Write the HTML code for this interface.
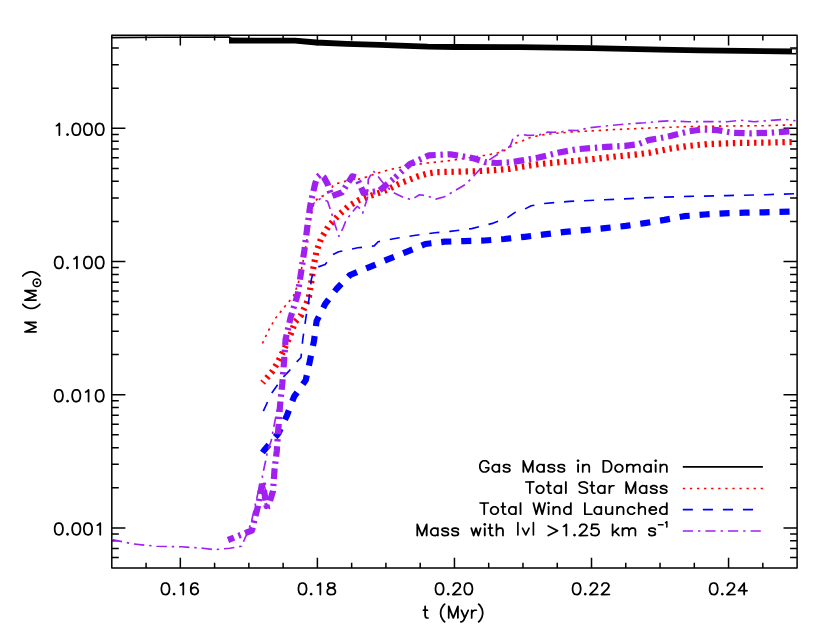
<!DOCTYPE html>
<html><head><meta charset="utf-8"><title>plot</title>
<style>html,body{margin:0;padding:0;background:#fff;font-family:"Liberation Sans",sans-serif}svg{display:block}</style>
</head><body>
<svg width="830" height="639" viewBox="0 0 830 639">
<rect width="830" height="639" fill="#fff"/>
<path d="M146.07 35.20V40.50M146.07 568.00V562.70M180.33 35.20V45.50M180.33 568.00V557.70M214.59 35.20V40.50M214.59 568.00V562.70M248.86 35.20V40.50M248.86 568.00V562.70M283.12 35.20V40.50M283.12 568.00V562.70M317.39 35.20V45.50M317.39 568.00V557.70M351.66 35.20V40.50M351.66 568.00V562.70M385.92 35.20V40.50M385.92 568.00V562.70M420.19 35.20V40.50M420.19 568.00V562.70M454.45 35.20V45.50M454.45 568.00V557.70M488.71 35.20V40.50M488.71 568.00V562.70M522.98 35.20V40.50M522.98 568.00V562.70M557.25 35.20V40.50M557.25 568.00V562.70M591.51 35.20V45.50M591.51 568.00V557.70M625.77 35.20V40.50M625.77 568.00V562.70M660.04 35.20V40.50M660.04 568.00V562.70M694.30 35.20V40.50M694.30 568.00V562.70M728.57 35.20V45.50M728.57 568.00V557.70M762.84 35.20V40.50M762.84 568.00V562.70M111.80 557.45H118.80M797.10 557.45H790.10M111.80 548.54H118.80M797.10 548.54H790.10M111.80 540.81H118.80M797.10 540.81H790.10M111.80 534.00H118.80M797.10 534.00H790.10M111.80 527.90H125.40M797.10 527.90H783.50M111.80 487.81H118.80M797.10 487.81H790.10M111.80 464.35H118.80M797.10 464.35H790.10M111.80 447.71H118.80M797.10 447.71H790.10M111.80 434.80H118.80M797.10 434.80H790.10M111.80 424.25H118.80M797.10 424.25H790.10M111.80 415.34H118.80M797.10 415.34H790.10M111.80 407.61H118.80M797.10 407.61H790.10M111.80 400.80H118.80M797.10 400.80H790.10M111.80 394.70H125.40M797.10 394.70H783.50M111.80 354.61H118.80M797.10 354.61H790.10M111.80 331.15H118.80M797.10 331.15H790.10M111.80 314.51H118.80M797.10 314.51H790.10M111.80 301.60H118.80M797.10 301.60H790.10M111.80 291.05H118.80M797.10 291.05H790.10M111.80 282.14H118.80M797.10 282.14H790.10M111.80 274.41H118.80M797.10 274.41H790.10M111.80 267.60H118.80M797.10 267.60H790.10M111.80 261.50H125.40M797.10 261.50H783.50M111.80 221.41H118.80M797.10 221.41H790.10M111.80 197.95H118.80M797.10 197.95H790.10M111.80 181.31H118.80M797.10 181.31H790.10M111.80 168.40H118.80M797.10 168.40H790.10M111.80 157.85H118.80M797.10 157.85H790.10M111.80 148.94H118.80M797.10 148.94H790.10M111.80 141.21H118.80M797.10 141.21H790.10M111.80 134.40H118.80M797.10 134.40H790.10M111.80 128.30H125.40M797.10 128.30H783.50M111.80 88.21H118.80M797.10 88.21H790.10M111.80 64.75H118.80M797.10 64.75H790.10M111.80 48.11H118.80M797.10 48.11H790.10" stroke="#000" stroke-width="1.50" fill="none"/>
<rect x="111.80" y="35.20" width="685.30" height="532.80" fill="none" stroke="#000" stroke-linejoin="round" stroke-width="1.50"/>
<g fill="none" stroke-linejoin="round">
<polyline points="111.8,37.6 160.0,37.3 229.0,37.0 232.0,39.0" stroke="#000" stroke-width="1.65"/>
<polyline points="229.0,40.5 295.0,40.7 316.4,42.5 346.5,43.9 380.0,44.9 400.0,45.7 427.8,46.7 455.0,47.0 520.0,47.1 591.3,48.2 660.0,49.6 700.0,50.3 796.5,51.5" stroke="#000" stroke-width="5.8"/>
<polyline points="260.6,347.5 262.4,343.5 268.4,330.6 275.3,318.5 284.8,306.5 293.4,296.2 298.5,282.4 303.0,262.0 307.5,236.3 310.0,222.6 312.5,208.8 314.4,201.9 318.8,197.3 325.7,195.0 330.1,190.7 333.8,184.4 340.7,182.5 347.6,180.6 361.3,178.8 373.1,174.6 388.6,169.8 407.8,165.9 427.1,163.0 446.4,161.1 465.7,158.2 484.9,155.3 491.0,154.2 498.2,152.8 504.5,150.4 510.7,146.5 516.0,142.9 522.8,140.7 529.0,138.0 535.8,136.2 542.8,134.9 549.8,134.0 556.5,133.2 563.7,132.7 570.0,132.0 590.6,130.9 615.7,129.5 650.0,128.0 688.6,126.6 727.1,126.0 765.7,125.7 795.5,124.7" stroke="#ff0000" stroke-width="1.65" stroke-dasharray="2.4 4.68" stroke-dashoffset="2.6"/>
<polyline points="262.7,382.7 267.4,377.2 272.1,371.7 277.5,363.0 284.8,347.8 290.8,334.0 295.1,322.0 301.1,315.1 306.3,303.9 308.9,297.0 310.6,286.4 313.5,267.1 316.4,251.7 321.2,238.2 328.9,225.7 338.6,215.1 348.2,206.4 357.8,200.6 367.5,196.7 381.0,192.3 388.6,189.0 398.2,184.2 407.8,180.4 417.5,176.5 427.1,173.6 436.7,172.1 456.0,171.7 475.3,171.3 494.6,170.1 510.0,168.8 519.3,167.1 538.6,164.2 557.8,162.3 577.1,160.7 596.4,158.8 615.7,156.5 634.9,154.6 650.0,152.7 669.3,148.8 688.6,145.9 707.8,144.0 736.7,143.0 765.7,142.6 791.7,142.0" stroke="#ff0000" stroke-width="6.2" stroke-dasharray="2.4 4.68" stroke-dashoffset="0.9"/>
<polyline points="262.5,413.0 271.3,393.7 275.2,388.2 283.0,377.2 288.5,371.7 295.6,363.0 301.0,357.5 302.8,339.2 306.3,315.1 308.9,299.6 311.4,278.9 314.0,270.0 318.3,266.9 325.1,264.5 332.8,254.6 338.6,251.7 357.8,247.8 374.2,245.9 378.1,241.7 396.4,238.2 415.7,235.3 434.9,232.8 450.0,231.4 471.7,228.6 493.4,223.1 507.5,217.7 515.1,212.3 524.8,209.0 531.3,205.8 543.3,203.6 569.3,201.4 601.8,199.9 630.0,198.6 650.0,197.6 688.6,196.4 727.1,195.6 765.7,194.7 795.5,193.7" stroke="#0000ff" stroke-width="1.65" stroke-dasharray="10.1 9.9" stroke-dashoffset="18"/>
<polyline points="262.5,452.5 265.0,449.2 278.3,433.6 286.9,415.6 294.0,396.8 305.7,380.3 309.6,362.3 314.0,340.9 316.6,321.1 325.2,303.9 336.5,289.0 350.0,275.0 369.4,267.1 387.7,259.4 406.0,252.1 425.3,244.0 444.6,241.7 464.1,241.1 484.7,240.5 504.2,239.0 524.8,236.8 544.3,234.4 564.9,231.8 584.5,230.1 605.1,228.1 625.7,225.9 644.9,223.1 664.5,219.9 684.0,216.2 704.6,214.5 724.1,213.4 744.7,212.7 764.2,212.3 792.0,211.6" stroke="#0000ff" stroke-width="6.2" stroke-dasharray="10.1 9.9"/>
<polyline points="111.8,539.5 133.6,544.0 156.7,546.3 181.7,546.8 203.0,548.2 214.5,549.7 229.9,548.2 241.5,546.3 247.3,532.8 251.1,523.1 258.5,490.7 269.5,508.5 262.3,476.3 265.6,461.0 267.8,450.0 271.1,441.3 274.4,423.8 276.6,412.8 278.8,401.9" stroke="#a020f0" stroke-width="1.65" stroke-dasharray="10.4 4.9 2.4 4.9"/>
<polyline points="311.5,205.0 320.0,198.8 327.6,201.3 330.1,208.8 332.6,216.3 335.1,225.1 338.8,236.3 343.2,227.6 345.7,221.3 349.5,215.7 354.5,209.4 357.3,206.3 360.1,208.8 362.7,213.2 367.5,197.7 368.3,179.4 373.1,170.7 378.9,177.5 385.7,186.1 394.3,192.9 404.0,197.7 411.7,199.6 419.4,194.8 427.1,195.8 435.8,199.1 444.5,196.7 456.0,190.0 465.7,184.2 473.4,176.5 481.1,167.8 488.8,160.1 491.9,158.1 498.7,153.7 503.5,149.4 508.3,147.5 510.7,145.1 513.1,138.3 515.5,136.4 518.4,135.4 522.8,134.5 527.6,135.4 532.9,135.2 539.2,134.9 544.0,133.5 547.8,132.0 553.6,132.3 561.3,132.0 567.1,130.4 577.1,130.5 590.6,127.6 608.0,125.7 625.3,124.1 644.6,122.8 660.0,121.4 669.3,120.8 688.6,121.8 707.8,121.5 727.1,121.7 740.6,120.2 754.1,121.8 769.5,120.5 784.9,119.3 795.5,120.8" stroke="#a020f0" stroke-width="1.65" stroke-dasharray="10.4 4.9 2.4 4.9" stroke-dashoffset="6.4"/>
<polyline points="228.0,540.0 238.0,536.0 252.0,530.5 254.5,520.0 258.0,506.0 262.5,481.0 266.5,506.0 270.0,501.0 273.0,491.0 274.5,470.0 276.8,450.8 279.9,407.0 282.3,383.5 283.9,363.3 285.6,339.2 290.8,316.8 297.7,294.4 301.1,272.1 304.5,249.5 307.3,227.0 310.1,206.3 312.9,193.2 315.2,183.5 317.5,177.0 320.7,174.3 324.0,177.5 327.6,184.0 329.6,190.5 331.5,196.3 342.0,192.3 352.3,176.3 356.7,177.5 363.5,192.9 378.9,191.0 395.3,177.5" stroke="#a020f0" stroke-width="6.2" stroke-dasharray="10.5 4.75 2.4 4.75" stroke-dashoffset="4"/>
<polyline points="395.3,177.5 409.8,164.0 429.0,155.3 450.2,154.3 473.4,158.2 484.9,162.0 496.5,163.0 510.0,162.4 519.3,160.9 538.6,157.5 557.8,152.7 577.1,149.2 606.0,146.9 625.3,145.9 638.8,144.0 648.4,140.1 660.0,138.2 669.3,136.3 688.6,131.4 702.0,129.5 717.5,130.1 732.9,132.8 750.2,133.4 769.5,132.8 789.8,131.4" stroke="#a020f0" stroke-width="6.2" stroke-dasharray="10.5 4.75 2.4 4.75" stroke-dashoffset="7.7"/>
</g>
<rect x="792" y="49.4" width="3.9" height="3.5" fill="#fff"/>
<path transform="translate(159.67 594.60) scale(0.9931 0.9517)" d="M14.25 -2.00L13.81 -1.75L13.31 -1.25L13.06 -0.75L13.06 -0.44L13.31 0.06L13.88 0.62L14.56 0.88L15.12 0.62L15.69 0.06L15.94 -0.44L15.94 -0.75L15.69 -1.25L15.19 -1.75L14.75 -2.00ZM34.75 -13.06L32.88 -12.50L32.19 -11.94L31.19 -10.44L31.00 -10.00L30.44 -7.19L30.44 -3.81L30.94 -1.81L31.25 -1.12L32.44 0.06L32.88 0.31L34.38 0.81L35.44 0.88L37.44 0.25L38.94 -1.12L39.19 -1.56L39.69 -3.06L39.75 -4.06L38.94 -6.44L37.75 -7.56L37.25 -7.88L35.75 -8.38L34.81 -8.44L32.75 -7.81L32.44 -7.56L32.38 -7.62L32.75 -9.56L33.50 -10.69L33.81 -10.94L35.00 -11.31L36.00 -11.25L37.06 -10.88L37.56 -9.94L38.25 -9.56L38.88 -9.81L39.12 -10.19L39.06 -10.88L38.50 -12.00L38.00 -12.44L36.38 -13.00ZM34.81 -6.62L35.38 -6.62L36.62 -6.19L37.50 -5.31L38.00 -3.81L37.44 -2.12L36.56 -1.31L35.25 -0.88L34.94 -0.88L33.62 -1.31L32.75 -2.12L32.25 -3.94L32.62 -5.25L33.56 -6.19ZM23.75 -13.06L23.12 -12.81L21.44 -11.12L20.44 -10.62L20.19 -10.38L20.00 -9.81L20.12 -9.44L20.44 -9.12L21.00 -9.00L22.44 -9.62L22.81 -9.94L22.88 -9.88L22.88 0.00L23.25 0.69L23.81 0.88L24.31 0.69L24.69 0.00L24.69 -12.19L24.44 -12.75ZM5.12 -13.06L3.31 -12.50L2.75 -12.12L1.56 -10.38L0.88 -7.31L0.88 -4.88L1.44 -2.12L2.75 -0.06L3.31 0.31L4.81 0.81L6.44 0.88L8.31 0.31L9.00 -0.25L10.00 -1.75L10.19 -2.19L10.75 -5.00L10.75 -7.19L10.19 -9.94L9.94 -10.50L8.94 -12.00L8.31 -12.50L6.81 -13.00ZM5.38 -11.31L6.44 -11.25L7.38 -10.94L7.69 -10.69L8.50 -9.38L9.00 -6.75L9.00 -5.44L8.44 -2.62L7.50 -1.31L6.25 -0.88L5.38 -0.88L4.00 -1.38L3.12 -2.75L2.62 -5.19L2.62 -7.00L3.12 -9.44L4.12 -10.88Z" fill="#000"/>
<path transform="translate(296.73 594.60) scale(0.9931 0.9517)" d="M14.25 -2.00L13.81 -1.75L13.31 -1.25L13.06 -0.75L13.06 -0.44L13.31 0.06L13.88 0.62L14.56 0.88L15.12 0.62L15.69 0.06L15.94 -0.44L15.94 -0.75L15.69 -1.25L15.19 -1.75L14.75 -2.00ZM33.25 -13.00L31.50 -12.38L31.06 -11.94L30.50 -10.81L30.50 -8.88L31.12 -7.69L31.94 -7.06L30.69 -5.88L29.94 -4.50L29.94 -1.88L30.62 -0.62L31.25 0.06L31.69 0.31L33.56 0.88L36.38 0.81L37.88 0.31L38.31 0.06L39.12 -0.81L39.62 -1.81L39.75 -2.31L39.75 -4.06L39.62 -4.56L38.94 -5.81L37.62 -7.06L38.00 -7.25L38.56 -7.81L39.06 -8.81L39.19 -9.31L39.19 -10.44L38.50 -12.00L37.88 -12.50L36.00 -13.06ZM32.00 -4.62L33.00 -5.62L34.69 -6.19L36.62 -5.62L37.56 -4.69L37.94 -3.94L37.94 -2.44L37.56 -1.69L37.25 -1.38L35.81 -0.88L33.81 -0.88L32.44 -1.31L32.00 -1.75L31.62 -2.50L31.62 -3.88ZM32.19 -10.19L32.56 -10.88L33.81 -11.31L35.75 -11.31L37.12 -10.81L37.38 -10.31L37.38 -9.44L37.00 -8.75L36.25 -8.38L35.06 -8.06L34.56 -8.06L33.38 -8.38L32.62 -8.75L32.19 -9.50ZM23.75 -13.06L23.12 -12.81L21.44 -11.12L20.44 -10.62L20.19 -10.38L20.00 -9.81L20.12 -9.44L20.44 -9.12L21.00 -9.00L22.44 -9.62L22.81 -9.94L22.88 -9.88L22.88 0.00L23.25 0.69L23.81 0.88L24.31 0.69L24.69 0.00L24.69 -12.19L24.44 -12.75ZM5.12 -13.06L3.31 -12.50L2.75 -12.12L1.56 -10.38L0.88 -7.31L0.88 -4.88L1.44 -2.12L2.75 -0.06L3.31 0.31L4.81 0.81L6.44 0.88L8.31 0.31L9.00 -0.25L10.00 -1.75L10.19 -2.19L10.75 -5.00L10.75 -7.19L10.19 -9.94L9.94 -10.50L8.94 -12.00L8.31 -12.50L6.81 -13.00ZM5.38 -11.31L6.44 -11.25L7.38 -10.94L7.69 -10.69L8.50 -9.38L9.00 -6.75L9.00 -5.44L8.44 -2.62L7.50 -1.31L6.25 -0.88L5.38 -0.88L4.00 -1.38L3.12 -2.75L2.62 -5.19L2.62 -7.00L3.12 -9.44L4.12 -10.88Z" fill="#000"/>
<path transform="translate(433.79 594.60) scale(0.9931 0.9517)" d="M14.25 -2.00L13.81 -1.75L13.31 -1.25L13.06 -0.75L13.06 -0.44L13.31 0.06L13.88 0.62L14.56 0.88L15.12 0.62L15.69 0.06L15.94 -0.44L15.94 -0.75L15.69 -1.25L15.19 -1.75L14.75 -2.00ZM34.12 -13.06L32.31 -12.50L31.75 -12.12L30.56 -10.38L29.88 -7.31L29.88 -4.88L30.44 -2.12L31.75 -0.06L32.31 0.31L33.81 0.81L35.44 0.88L37.31 0.31L38.00 -0.25L39.00 -1.75L39.19 -2.19L39.75 -5.00L39.75 -7.19L39.19 -9.94L38.94 -10.50L37.94 -12.00L37.31 -12.50L35.81 -13.00ZM34.38 -11.31L35.44 -11.25L36.38 -10.94L36.69 -10.69L37.50 -9.38L38.00 -6.75L38.00 -5.44L37.44 -2.62L36.50 -1.31L35.25 -0.88L34.38 -0.88L33.00 -1.38L32.12 -2.75L31.62 -5.19L31.62 -7.00L32.12 -9.44L33.12 -10.88ZM21.62 -13.00L20.19 -12.19L19.50 -11.44L18.81 -9.88L18.88 -9.06L19.25 -8.56L19.50 -8.44L19.94 -8.44L20.19 -8.56L20.56 -9.06L20.62 -9.69L21.00 -10.44L21.50 -10.94L22.31 -11.31L24.12 -11.31L25.00 -10.88L25.38 -10.50L25.81 -9.62L25.81 -8.94L25.31 -7.94L24.31 -6.44L18.50 -0.62L18.31 -0.25L18.31 0.25L18.62 0.69L19.06 0.88L27.56 0.81L28.00 0.44L28.12 0.12L28.00 -0.44L27.56 -0.81L21.31 -0.94L25.75 -5.38L26.94 -7.19L27.50 -8.31L27.56 -8.69L27.50 -10.25L26.94 -11.38L25.88 -12.44L24.75 -13.00L24.38 -13.06ZM5.12 -13.06L3.31 -12.50L2.75 -12.12L1.56 -10.38L0.88 -7.31L0.88 -4.88L1.44 -2.12L2.75 -0.06L3.31 0.31L4.81 0.81L6.44 0.88L8.31 0.31L9.00 -0.25L10.00 -1.75L10.19 -2.19L10.75 -5.00L10.75 -7.19L10.19 -9.94L9.94 -10.50L8.94 -12.00L8.31 -12.50L6.81 -13.00ZM5.38 -11.31L6.44 -11.25L7.38 -10.94L7.69 -10.69L8.50 -9.38L9.00 -6.75L9.00 -5.44L8.44 -2.62L7.50 -1.31L6.25 -0.88L5.38 -0.88L4.00 -1.38L3.12 -2.75L2.62 -5.19L2.62 -7.00L3.12 -9.44L4.12 -10.88Z" fill="#000"/>
<path transform="translate(570.85 594.60) scale(0.9931 0.9517)" d="M14.25 -2.00L13.81 -1.75L13.31 -1.25L13.06 -0.75L13.06 -0.44L13.31 0.06L13.88 0.62L14.56 0.88L15.12 0.62L15.69 0.06L15.94 -0.44L15.94 -0.75L15.69 -1.25L15.19 -1.75L14.75 -2.00ZM33.25 -13.00L32.12 -12.44L31.06 -11.38L30.50 -10.25L30.44 -9.25L30.62 -8.75L31.06 -8.44L31.56 -8.44L31.81 -8.56L32.12 -8.94L32.19 -9.62L32.62 -10.50L33.00 -10.88L33.88 -11.31L35.69 -11.31L36.50 -10.94L37.00 -10.44L37.38 -9.69L37.38 -8.88L36.88 -7.88L35.88 -6.38L30.12 -0.62L29.88 -0.12L29.94 0.31L30.31 0.75L30.69 0.88L39.19 0.81L39.69 0.25L39.69 -0.25L39.19 -0.81L32.94 -0.94L37.19 -5.19L38.44 -7.00L39.19 -8.69L39.19 -9.88L39.06 -10.31L38.50 -11.44L37.81 -12.19L36.38 -13.00ZM21.62 -13.00L20.19 -12.19L19.50 -11.44L18.81 -9.88L18.88 -9.06L19.25 -8.56L19.50 -8.44L19.94 -8.44L20.19 -8.56L20.56 -9.06L20.62 -9.69L21.00 -10.44L21.50 -10.94L22.31 -11.31L24.12 -11.31L25.00 -10.88L25.38 -10.50L25.81 -9.62L25.81 -8.94L25.31 -7.94L24.31 -6.44L18.50 -0.62L18.31 -0.25L18.31 0.25L18.62 0.69L19.06 0.88L27.56 0.81L28.00 0.44L28.12 0.12L28.00 -0.44L27.56 -0.81L21.31 -0.94L25.75 -5.38L26.94 -7.19L27.50 -8.31L27.56 -8.69L27.50 -10.25L26.94 -11.38L25.88 -12.44L24.75 -13.00L24.38 -13.06ZM5.12 -13.06L3.31 -12.50L2.75 -12.12L1.56 -10.38L0.88 -7.31L0.88 -4.88L1.44 -2.12L2.75 -0.06L3.31 0.31L4.81 0.81L6.44 0.88L8.31 0.31L9.00 -0.25L10.00 -1.75L10.19 -2.19L10.75 -5.00L10.75 -7.19L10.19 -9.94L9.94 -10.50L8.94 -12.00L8.31 -12.50L6.81 -13.00ZM5.38 -11.31L6.44 -11.25L7.38 -10.94L7.69 -10.69L8.50 -9.38L9.00 -6.75L9.00 -5.44L8.44 -2.62L7.50 -1.31L6.25 -0.88L5.38 -0.88L4.00 -1.38L3.12 -2.75L2.62 -5.19L2.62 -7.00L3.12 -9.44L4.12 -10.88Z" fill="#000"/>
<path transform="translate(707.91 594.60) scale(0.9931 0.9517)" d="M14.25 -2.00L13.81 -1.75L13.31 -1.25L13.06 -0.75L13.06 -0.44L13.31 0.06L13.88 0.62L14.56 0.88L15.12 0.62L15.69 0.06L15.94 -0.44L15.94 -0.75L15.69 -1.25L15.19 -1.75L14.75 -2.00ZM36.44 -13.06L35.94 -12.81L30.25 -4.94L30.00 -4.56L29.88 -3.94L30.00 -3.62L30.31 -3.31L30.69 -3.19L35.56 -3.19L35.62 0.00L35.94 0.62L36.62 0.88L37.25 0.50L37.44 0.00L37.44 -3.12L39.75 -3.25L40.19 -3.62L40.31 -4.12L40.19 -4.50L39.75 -4.88L37.44 -5.00L37.44 -12.19L37.06 -12.88ZM35.56 -9.25L35.62 -5.00L32.56 -4.94L32.56 -5.12ZM21.62 -13.00L20.19 -12.19L19.50 -11.44L18.81 -9.88L18.88 -9.06L19.25 -8.56L19.50 -8.44L19.94 -8.44L20.19 -8.56L20.56 -9.06L20.62 -9.69L21.00 -10.44L21.50 -10.94L22.31 -11.31L24.12 -11.31L25.00 -10.88L25.38 -10.50L25.81 -9.62L25.81 -8.94L25.31 -7.94L24.31 -6.44L18.50 -0.62L18.31 -0.25L18.31 0.25L18.62 0.69L19.06 0.88L27.56 0.81L28.00 0.44L28.12 0.12L28.00 -0.44L27.56 -0.81L21.31 -0.94L25.75 -5.38L26.94 -7.19L27.50 -8.31L27.56 -8.69L27.50 -10.25L26.94 -11.38L25.88 -12.44L24.75 -13.00L24.38 -13.06ZM5.12 -13.06L3.31 -12.50L2.75 -12.12L1.56 -10.38L0.88 -7.31L0.88 -4.88L1.44 -2.12L2.75 -0.06L3.31 0.31L4.81 0.81L6.44 0.88L8.31 0.31L9.00 -0.25L10.00 -1.75L10.19 -2.19L10.75 -5.00L10.75 -7.19L10.19 -9.94L9.94 -10.50L8.94 -12.00L8.31 -12.50L6.81 -13.00ZM5.38 -11.31L6.44 -11.25L7.38 -10.94L7.69 -10.69L8.50 -9.38L9.00 -6.75L9.00 -5.44L8.44 -2.62L7.50 -1.31L6.25 -0.88L5.38 -0.88L4.00 -1.38L3.12 -2.75L2.62 -5.19L2.62 -7.00L3.12 -9.44L4.12 -10.88Z" fill="#000"/>
<path transform="translate(52.94 135.20) scale(1.0069 0.9655)" d="M14.25 -2.00L13.81 -1.75L13.31 -1.25L13.06 -0.75L13.06 -0.44L13.31 0.06L13.88 0.62L14.56 0.88L15.12 0.62L15.69 0.06L15.94 -0.44L15.94 -0.75L15.69 -1.25L15.19 -1.75L14.75 -2.00ZM45.75 -13.06L43.69 -12.38L43.25 -12.00L42.25 -10.50L42.00 -9.94L41.50 -7.44L41.44 -5.19L42.00 -2.25L42.25 -1.69L43.25 -0.19L43.88 0.31L45.38 0.81L47.06 0.88L49.12 0.19L49.50 -0.12L50.62 -1.81L51.31 -4.81L51.38 -6.94L50.75 -10.06L49.50 -12.06L48.88 -12.50L47.38 -13.00ZM46.00 -11.31L46.81 -11.31L48.19 -10.81L49.06 -9.50L49.56 -7.06L49.56 -5.12L49.06 -2.69L48.12 -1.31L46.81 -0.88L45.94 -0.88L44.81 -1.25L44.56 -1.44L43.75 -2.69L43.25 -5.06L43.25 -7.12L43.75 -9.50L44.69 -10.88ZM34.12 -13.06L32.31 -12.50L31.75 -12.12L30.56 -10.38L29.88 -7.31L29.88 -4.88L30.44 -2.12L31.75 -0.06L32.31 0.31L33.81 0.81L35.44 0.88L37.31 0.31L38.00 -0.25L39.00 -1.75L39.19 -2.19L39.75 -5.00L39.75 -7.19L39.19 -9.94L38.94 -10.50L37.94 -12.00L37.31 -12.50L35.81 -13.00ZM34.38 -11.31L35.44 -11.25L36.38 -10.94L36.69 -10.69L37.50 -9.38L38.00 -6.75L38.00 -5.44L37.44 -2.62L36.50 -1.31L35.25 -0.88L34.38 -0.88L33.00 -1.38L32.12 -2.75L31.62 -5.19L31.62 -7.00L32.12 -9.44L33.12 -10.88ZM22.56 -13.06L20.69 -12.50L20.38 -12.31L19.06 -10.50L18.75 -9.69L18.25 -7.19L18.25 -5.00L18.81 -2.19L20.00 -0.25L20.69 0.31L22.19 0.81L23.81 0.88L25.94 0.19L26.25 -0.06L27.44 -1.81L28.12 -4.88L28.12 -7.31L27.56 -10.06L26.25 -12.12L25.69 -12.50L24.19 -13.00ZM22.81 -11.31L23.62 -11.31L24.75 -10.94L25.12 -10.62L25.88 -9.44L26.38 -7.00L26.38 -5.19L25.88 -2.75L24.94 -1.31L23.62 -0.88L22.75 -0.88L21.62 -1.25L21.31 -1.50L20.56 -2.62L20.00 -5.44L20.00 -6.75L20.50 -9.38L21.50 -10.88ZM6.38 -13.06L5.75 -12.81L4.06 -11.12L3.12 -10.69L2.62 -10.06L2.75 -9.38L3.31 -9.00L3.94 -9.06L5.00 -9.62L5.44 -10.00L5.50 -9.94L5.50 0.06L5.62 0.44L5.94 0.75L6.31 0.88L6.81 0.75L7.12 0.44L7.25 0.06L7.25 -12.25L7.12 -12.62L6.81 -12.94Z" fill="#000"/>
<path transform="translate(52.94 268.40) scale(1.0069 0.9655)" d="M14.25 -2.00L13.81 -1.75L13.31 -1.25L13.06 -0.75L13.06 -0.44L13.31 0.06L13.88 0.62L14.56 0.88L15.12 0.62L15.69 0.06L15.94 -0.44L15.94 -0.75L15.69 -1.25L15.19 -1.75L14.75 -2.00ZM45.75 -13.06L43.69 -12.38L43.25 -12.00L42.25 -10.50L42.00 -9.94L41.50 -7.44L41.44 -5.19L42.00 -2.25L42.25 -1.69L43.25 -0.19L43.88 0.31L45.38 0.81L47.06 0.88L49.12 0.19L49.50 -0.12L50.62 -1.81L51.31 -4.81L51.38 -6.94L50.75 -10.06L49.50 -12.06L48.88 -12.50L47.38 -13.00ZM46.00 -11.31L46.81 -11.31L48.19 -10.81L49.06 -9.50L49.56 -7.06L49.56 -5.12L49.06 -2.69L48.12 -1.31L46.81 -0.88L45.94 -0.88L44.81 -1.25L44.56 -1.44L43.75 -2.69L43.25 -5.06L43.25 -7.12L43.75 -9.50L44.69 -10.88ZM34.12 -13.06L32.31 -12.50L31.75 -12.12L30.56 -10.38L29.88 -7.31L29.88 -4.88L30.44 -2.12L31.75 -0.06L32.31 0.31L33.81 0.81L35.44 0.88L37.31 0.31L38.00 -0.25L39.00 -1.75L39.19 -2.19L39.75 -5.00L39.75 -7.19L39.19 -9.94L38.94 -10.50L37.94 -12.00L37.31 -12.50L35.81 -13.00ZM34.38 -11.31L35.44 -11.25L36.38 -10.94L36.69 -10.69L37.50 -9.38L38.00 -6.75L38.00 -5.44L37.44 -2.62L36.50 -1.31L35.25 -0.88L34.38 -0.88L33.00 -1.38L32.12 -2.75L31.62 -5.19L31.62 -7.00L32.12 -9.44L33.12 -10.88ZM23.75 -13.06L23.12 -12.81L21.44 -11.12L20.44 -10.62L20.19 -10.38L20.00 -9.81L20.12 -9.44L20.44 -9.12L21.00 -9.00L22.44 -9.62L22.81 -9.94L22.88 -9.88L22.88 0.00L23.25 0.69L23.81 0.88L24.31 0.69L24.69 0.00L24.69 -12.19L24.44 -12.75ZM5.12 -13.06L3.31 -12.50L2.75 -12.12L1.56 -10.38L0.88 -7.31L0.88 -4.88L1.44 -2.12L2.75 -0.06L3.31 0.31L4.81 0.81L6.44 0.88L8.31 0.31L9.00 -0.25L10.00 -1.75L10.19 -2.19L10.75 -5.00L10.75 -7.19L10.19 -9.94L9.94 -10.50L8.94 -12.00L8.31 -12.50L6.81 -13.00ZM5.38 -11.31L6.44 -11.25L7.38 -10.94L7.69 -10.69L8.50 -9.38L9.00 -6.75L9.00 -5.44L8.44 -2.62L7.50 -1.31L6.25 -0.88L5.38 -0.88L4.00 -1.38L3.12 -2.75L2.62 -5.19L2.62 -7.00L3.12 -9.44L4.12 -10.88Z" fill="#000"/>
<path transform="translate(52.94 401.60) scale(1.0069 0.9655)" d="M14.25 -2.00L13.81 -1.75L13.31 -1.25L13.06 -0.75L13.06 -0.44L13.31 0.06L13.88 0.62L14.56 0.88L15.12 0.62L15.69 0.06L15.94 -0.44L15.94 -0.75L15.69 -1.25L15.19 -1.75L14.75 -2.00ZM45.75 -13.06L43.69 -12.38L43.25 -12.00L42.25 -10.50L42.00 -9.94L41.50 -7.44L41.44 -5.19L42.00 -2.25L42.25 -1.69L43.25 -0.19L43.88 0.31L45.38 0.81L47.06 0.88L49.12 0.19L49.50 -0.12L50.62 -1.81L51.31 -4.81L51.38 -6.94L50.75 -10.06L49.50 -12.06L48.88 -12.50L47.38 -13.00ZM46.00 -11.31L46.81 -11.31L48.19 -10.81L49.06 -9.50L49.56 -7.06L49.56 -5.12L49.06 -2.69L48.12 -1.31L46.81 -0.88L45.94 -0.88L44.81 -1.25L44.56 -1.44L43.75 -2.69L43.25 -5.06L43.25 -7.12L43.75 -9.50L44.69 -10.88ZM35.38 -13.06L34.75 -12.81L33.06 -11.12L32.12 -10.69L31.62 -10.06L31.75 -9.38L32.31 -9.00L32.94 -9.06L34.00 -9.62L34.44 -10.00L34.50 -9.94L34.50 0.06L34.62 0.44L34.94 0.75L35.31 0.88L35.81 0.75L36.12 0.44L36.25 0.06L36.25 -12.25L36.12 -12.62L35.81 -12.94ZM22.56 -13.06L20.69 -12.50L20.38 -12.31L19.06 -10.50L18.75 -9.69L18.25 -7.19L18.25 -5.00L18.81 -2.19L20.00 -0.25L20.69 0.31L22.19 0.81L23.81 0.88L25.94 0.19L26.25 -0.06L27.44 -1.81L28.12 -4.88L28.12 -7.31L27.56 -10.06L26.25 -12.12L25.69 -12.50L24.19 -13.00ZM22.81 -11.31L23.62 -11.31L24.75 -10.94L25.12 -10.62L25.88 -9.44L26.38 -7.00L26.38 -5.19L25.88 -2.75L24.94 -1.31L23.62 -0.88L22.75 -0.88L21.62 -1.25L21.31 -1.50L20.56 -2.62L20.00 -5.44L20.00 -6.75L20.50 -9.38L21.50 -10.88ZM5.12 -13.06L3.31 -12.50L2.75 -12.12L1.56 -10.38L0.88 -7.31L0.88 -4.88L1.44 -2.12L2.75 -0.06L3.31 0.31L4.81 0.81L6.44 0.88L8.31 0.31L9.00 -0.25L10.00 -1.75L10.19 -2.19L10.75 -5.00L10.75 -7.19L10.19 -9.94L9.94 -10.50L8.94 -12.00L8.31 -12.50L6.81 -13.00ZM5.38 -11.31L6.44 -11.25L7.38 -10.94L7.69 -10.69L8.50 -9.38L9.00 -6.75L9.00 -5.44L8.44 -2.62L7.50 -1.31L6.25 -0.88L5.38 -0.88L4.00 -1.38L3.12 -2.75L2.62 -5.19L2.62 -7.00L3.12 -9.44L4.12 -10.88Z" fill="#000"/>
<path transform="translate(52.94 534.80) scale(1.0069 0.9655)" d="M14.25 -2.00L13.81 -1.75L13.31 -1.25L13.06 -0.75L13.06 -0.44L13.31 0.06L13.88 0.62L14.56 0.88L15.12 0.62L15.69 0.06L15.94 -0.44L15.94 -0.75L15.69 -1.25L15.19 -1.75L14.75 -2.00ZM47.00 -13.06L46.38 -12.81L44.75 -11.19L43.81 -10.75L43.25 -10.12L43.25 -9.56L43.62 -9.12L43.94 -9.00L44.50 -9.06L45.62 -9.62L46.00 -9.94L46.06 -9.88L46.06 0.00L46.31 0.56L46.94 0.88L47.50 0.69L47.88 0.00L47.88 -12.19L47.69 -12.69ZM34.12 -13.06L32.31 -12.50L31.75 -12.12L30.56 -10.38L29.88 -7.31L29.88 -4.88L30.44 -2.12L31.75 -0.06L32.31 0.31L33.81 0.81L35.44 0.88L37.31 0.31L38.00 -0.25L39.00 -1.75L39.19 -2.19L39.75 -5.00L39.75 -7.19L39.19 -9.94L38.94 -10.50L37.94 -12.00L37.31 -12.50L35.81 -13.00ZM34.38 -11.31L35.44 -11.25L36.38 -10.94L36.69 -10.69L37.50 -9.38L38.00 -6.75L38.00 -5.44L37.44 -2.62L36.50 -1.31L35.25 -0.88L34.38 -0.88L33.00 -1.38L32.12 -2.75L31.62 -5.19L31.62 -7.00L32.12 -9.44L33.12 -10.88ZM22.56 -13.06L20.69 -12.50L20.38 -12.31L19.06 -10.50L18.75 -9.69L18.25 -7.19L18.25 -5.00L18.81 -2.19L20.00 -0.25L20.69 0.31L22.19 0.81L23.81 0.88L25.94 0.19L26.25 -0.06L27.44 -1.81L28.12 -4.88L28.12 -7.31L27.56 -10.06L26.25 -12.12L25.69 -12.50L24.19 -13.00ZM22.81 -11.31L23.62 -11.31L24.75 -10.94L25.12 -10.62L25.88 -9.44L26.38 -7.00L26.38 -5.19L25.88 -2.75L24.94 -1.31L23.62 -0.88L22.75 -0.88L21.62 -1.25L21.31 -1.50L20.56 -2.62L20.00 -5.44L20.00 -6.75L20.50 -9.38L21.50 -10.88ZM5.12 -13.06L3.31 -12.50L2.75 -12.12L1.56 -10.38L0.88 -7.31L0.88 -4.88L1.44 -2.12L2.75 -0.06L3.31 0.31L4.81 0.81L6.44 0.88L8.31 0.31L9.00 -0.25L10.00 -1.75L10.19 -2.19L10.75 -5.00L10.75 -7.19L10.19 -9.94L9.94 -10.50L8.94 -12.00L8.31 -12.50L6.81 -13.00ZM5.38 -11.31L6.44 -11.25L7.38 -10.94L7.69 -10.69L8.50 -9.38L9.00 -6.75L9.00 -5.44L8.44 -2.62L7.50 -1.31L6.25 -0.88L5.38 -0.88L4.00 -1.38L3.12 -2.75L2.62 -5.19L2.62 -7.00L3.12 -9.44L4.12 -10.88Z" fill="#000"/>
<path transform="translate(422.26 618.00) scale(0.9914 0.9569)" d="M54.94 -8.88L54.56 -9.00L52.38 -8.94L51.38 -8.44L50.81 -8.00L50.62 -8.56L50.19 -8.94L49.56 -8.94L49.12 -8.56L49.00 -8.12L49.00 0.06L49.12 0.44L49.44 0.75L49.81 0.88L50.19 0.81L50.69 0.31L50.75 -4.50L51.25 -5.94L52.06 -6.75L53.00 -7.25L54.62 -7.25L55.12 -7.50L55.38 -7.94L55.38 -8.31ZM46.81 -8.88L46.44 -9.00L46.12 -8.94L45.56 -8.44L42.94 -2.31L40.25 -8.50L39.88 -8.88L39.44 -9.00L39.00 -8.88L38.69 -8.56L38.56 -8.19L38.69 -7.56L41.94 0.00L41.06 1.75L40.00 2.81L39.19 3.19L38.56 3.25L38.12 3.62L38.00 4.19L38.12 4.50L38.44 4.81L38.81 4.94L39.50 4.94L41.25 4.12L42.62 2.62L43.75 0.38L47.12 -7.50L47.25 -8.31L47.06 -8.69ZM26.25 -12.94L25.81 -12.38L25.81 0.12L25.94 0.44L26.25 0.75L26.75 0.88L27.12 0.75L27.50 0.31L27.62 -7.12L30.44 0.25L30.88 0.75L31.19 0.88L31.75 0.75L32.25 0.12L35.00 -7.12L35.06 0.00L35.25 0.50L35.69 0.81L36.00 0.88L36.56 0.62L36.88 0.00L36.88 -12.19L36.69 -12.69L36.25 -13.00L35.88 -13.06L35.44 -12.88L35.12 -12.50L31.31 -2.56L27.56 -12.44L27.00 -13.00L26.62 -13.06ZM2.88 -13.06L2.38 -12.88L2.00 -12.19L2.00 -9.06L0.75 -8.88L0.38 -8.50L0.31 -7.88L0.44 -7.62L0.88 -7.31L2.00 -7.19L2.00 -2.31L2.62 -0.31L3.12 0.25L4.25 0.81L5.88 0.88L6.31 0.69L6.62 0.25L6.62 -0.25L6.50 -0.50L6.12 -0.81L4.88 -0.88L4.25 -1.19L3.81 -2.31L3.81 -7.19L5.56 -7.31L6.06 -7.88L6.06 -8.38L5.94 -8.62L5.50 -8.94L3.81 -9.06L3.81 -12.19L3.62 -12.62L3.31 -12.94ZM56.81 -15.38L56.12 -15.00L56.00 -14.75L56.00 -14.25L56.19 -13.88L57.44 -12.62L58.31 -11.31L59.50 -8.94L60.00 -6.50L60.00 -3.94L59.50 -1.50L58.38 0.75L57.38 2.25L56.19 3.44L56.00 3.81L56.00 4.31L56.31 4.75L56.88 4.94L57.50 4.69L58.81 3.31L60.00 1.50L61.12 -0.75L61.81 -4.06L61.81 -6.38L61.25 -9.31L60.00 -11.94L58.62 -14.00L57.50 -15.12ZM22.56 -15.38L22.00 -15.12L20.69 -13.81L19.56 -12.12L18.38 -9.75L17.69 -6.69L17.69 -3.75L18.25 -1.00L19.56 1.69L20.69 3.38L22.00 4.69L22.69 4.94L23.06 4.81L23.38 4.50L23.50 4.06L23.44 3.75L22.12 2.31L20.94 0.50L19.94 -1.56L19.44 -4.06L19.44 -6.38L20.00 -9.06L20.94 -10.94L22.12 -12.75L23.44 -14.19L23.50 -14.50L23.38 -14.94L23.06 -15.25Z" fill="#000"/>
<g transform="translate(36.10 334.20) rotate(-90)">
<path transform="scale(1.0121 0.9224)" d="M33.19 -12.94L32.88 -12.62L32.75 -12.25L32.75 0.00L32.94 0.50L33.31 0.81L33.69 0.88L34.06 0.75L34.38 0.44L34.50 0.12L34.56 -7.12L34.81 -6.69L37.38 0.19L37.75 0.69L38.12 0.88L38.62 0.81L39.19 0.19L41.44 -5.88L42.00 -7.12L42.00 -0.06L42.19 0.44L42.50 0.75L43.00 0.88L43.44 0.69L43.81 0.00L43.81 -12.19L43.69 -12.62L43.38 -12.94L43.00 -13.06L42.62 -13.00L42.19 -12.69L38.50 -3.00L38.25 -2.62L34.44 -12.56L33.94 -13.00L33.56 -13.06ZM1.88 -12.94L1.56 -12.62L1.44 -12.25L1.44 0.00L1.56 0.44L1.88 0.75L2.38 0.88L2.75 0.75L3.06 0.44L3.19 0.12L3.25 -7.19L6.06 0.19L6.50 0.75L6.81 0.88L7.31 0.81L7.81 0.31L10.62 -7.06L10.69 0.00L10.88 0.50L11.31 0.81L11.62 0.88L12.12 0.69L12.50 0.00L12.50 -12.19L12.31 -12.69L11.94 -13.00L11.50 -13.06L11.06 -12.88L10.75 -12.50L7.06 -2.69L6.94 -2.62L3.25 -12.31L2.62 -13.00L2.25 -13.06ZM29.50 -15.38L28.94 -15.12L27.56 -13.69L26.50 -12.12L25.31 -9.75L24.62 -6.56L24.62 -3.88L25.19 -1.06L26.38 1.44L27.81 3.56L28.94 4.69L29.62 4.94L30.00 4.81L30.31 4.50L30.44 3.88L30.25 3.50L29.19 2.44L28.00 0.69L26.94 -1.44L26.44 -3.88L26.44 -6.56L26.94 -9.00L28.00 -11.12L29.19 -12.88L30.19 -13.88L30.44 -14.31L30.31 -14.94L30.00 -15.25Z"/>
<circle cx="51.39" cy="0.80" r="3.8" fill="none" stroke="#000" stroke-width="1.5"/>
<circle cx="51.39" cy="0.80" r="1.25" fill="#000"/>
<path transform="translate(56.39 0) scale(1.0121 0.9224)" d="M1.81 -15.38L1.31 -15.25L1.00 -14.94L0.88 -14.38L1.12 -13.88L2.19 -12.81L3.25 -11.25L4.38 -9.00L4.94 -6.19L4.94 -4.25L4.38 -1.44L3.25 0.81L2.19 2.38L0.94 3.75L0.88 4.19L1.00 4.50L1.31 4.81L1.69 4.94L2.38 4.69L3.56 3.50L4.81 1.69L6.00 -0.69L6.69 -3.81L6.69 -6.62L6.00 -9.75L4.81 -12.12L3.75 -13.69L2.38 -15.12Z"/>
</g>
<path transform="translate(478.11 472.00) scale(1.0137 0.9259)" d="M179.38 -8.88L179.06 -8.56L178.94 -8.25L178.94 0.12L179.06 0.44L179.38 0.75L179.88 0.88L180.31 0.69L180.62 0.25L180.69 -5.44L182.06 -6.81L182.94 -7.25L184.19 -7.25L184.94 -6.81L185.31 -5.62L185.31 0.12L185.44 0.44L185.88 0.81L186.25 0.88L186.62 0.75L186.94 0.44L187.06 0.00L187.06 -5.81L186.38 -7.94L185.94 -8.38L184.50 -9.00L182.31 -8.94L181.19 -8.38L180.75 -8.00L180.50 -8.62L180.31 -8.81L179.81 -9.00ZM175.12 -9.00L174.50 -8.69L174.25 -8.12L174.25 0.00L174.56 0.62L175.19 0.88L175.69 0.69L176.06 0.00L176.06 -8.12L175.75 -8.75ZM164.94 -8.38L163.50 -7.00L163.25 -6.56L162.75 -5.06L162.75 -3.06L163.25 -1.56L163.50 -1.12L164.69 0.06L166.06 0.81L168.25 0.88L168.62 0.81L169.69 0.25L170.19 0.81L170.56 0.88L170.94 0.75L171.25 0.44L171.44 0.00L171.44 -8.06L171.25 -8.56L170.94 -8.88L170.56 -9.00L170.00 -8.81L169.69 -8.38L168.62 -8.94L166.44 -9.00L166.06 -8.94ZM166.69 -7.25L168.12 -7.19L168.75 -6.88L169.62 -6.00L169.62 -2.12L168.75 -1.25L168.00 -0.88L166.69 -0.88L165.81 -1.31L164.94 -2.19L164.44 -3.62L164.44 -4.50L164.94 -5.94L165.81 -6.81ZM146.00 -8.56L145.88 -8.25L145.88 0.12L146.00 0.44L146.31 0.75L146.69 0.88L147.06 0.81L147.56 0.31L147.62 -5.44L149.00 -6.81L149.88 -7.25L151.12 -7.25L151.88 -6.81L152.25 -5.62L152.25 0.06L152.38 0.44L152.69 0.75L153.06 0.88L153.56 0.75L153.88 0.44L154.00 0.06L154.00 -5.44L155.38 -6.81L156.25 -7.25L157.50 -7.25L158.25 -6.81L158.62 -5.62L158.69 0.31L159.06 0.75L159.44 0.88L159.94 0.75L160.25 0.44L160.38 0.06L160.38 -5.88L159.81 -7.75L159.25 -8.38L158.19 -8.94L156.00 -9.00L155.62 -8.94L154.50 -8.38L153.50 -7.50L153.31 -7.94L152.88 -8.38L151.44 -9.00L149.25 -8.94L148.12 -8.38L147.69 -8.00L147.44 -8.62L147.06 -8.94L146.44 -8.94ZM137.62 -8.94L136.25 -8.19L134.88 -6.69L134.25 -4.69L134.31 -3.06L134.81 -1.56L135.06 -1.12L136.62 0.31L137.62 0.81L138.00 0.88L140.19 0.81L141.56 0.06L142.94 -1.44L143.56 -3.44L143.50 -5.06L143.00 -6.56L142.75 -7.00L141.19 -8.44L140.19 -8.94L139.81 -9.00ZM138.25 -7.25L139.56 -7.25L140.50 -6.75L141.31 -5.94L141.81 -4.44L141.81 -3.69L141.31 -2.19L140.44 -1.31L139.56 -0.88L138.25 -0.88L137.31 -1.38L136.44 -2.31L136.06 -3.44L136.00 -4.38L136.44 -5.81L137.50 -6.88ZM102.81 -8.88L102.50 -8.56L102.38 -8.25L102.38 0.12L102.50 0.44L102.81 0.75L103.31 0.88L103.69 0.75L104.06 0.31L104.12 -5.44L105.50 -6.81L106.38 -7.25L107.62 -7.25L108.38 -6.81L108.75 -5.62L108.81 0.31L109.31 0.81L109.69 0.88L110.06 0.75L110.38 0.44L110.50 0.06L110.50 -5.81L109.81 -7.94L109.38 -8.38L107.94 -9.00L105.75 -8.94L104.62 -8.38L104.19 -8.00L103.94 -8.62L103.56 -8.94L103.19 -9.00ZM98.56 -9.00L98.19 -8.88L97.81 -8.50L97.69 -8.12L97.69 0.00L98.00 0.62L98.62 0.88L99.12 0.69L99.50 0.00L99.50 -8.12L99.12 -8.81ZM79.25 -8.44L78.62 -7.88L78.06 -6.75L78.06 -6.00L78.62 -4.88L79.12 -4.38L80.44 -3.75L82.88 -3.31L83.94 -2.88L84.38 -2.12L84.38 -1.94L83.94 -1.25L82.81 -0.88L81.38 -0.88L80.19 -1.25L79.69 -2.12L79.31 -2.50L78.88 -2.62L78.62 -2.56L78.12 -2.19L78.00 -1.69L78.06 -1.31L78.75 -0.06L79.25 0.31L81.12 0.88L83.38 0.81L85.19 0.12L85.50 -0.19L86.12 -1.62L86.06 -2.75L85.50 -3.88L84.94 -4.38L83.94 -4.88L80.88 -5.50L80.25 -5.81L79.88 -6.44L80.19 -6.88L81.12 -7.19L82.75 -7.25L83.94 -6.88L84.44 -6.00L84.94 -5.56L85.56 -5.56L86.00 -5.94L86.12 -6.50L85.50 -7.94L84.88 -8.44L83.00 -9.00L81.19 -9.00ZM69.44 -8.44L68.75 -7.88L68.19 -6.62L68.25 -5.88L68.81 -4.81L69.25 -4.38L70.25 -3.88L73.31 -3.25L74.06 -2.88L74.50 -2.19L74.50 -1.88L74.25 -1.38L72.94 -0.88L71.50 -0.88L70.31 -1.25L69.88 -2.06L69.44 -2.50L68.75 -2.56L68.50 -2.44L68.19 -2.00L68.25 -1.25L68.75 -0.25L69.44 0.31L71.31 0.88L73.50 0.81L75.31 0.12L75.62 -0.19L76.31 -1.75L76.25 -2.56L75.62 -3.88L75.19 -4.31L74.06 -4.88L71.00 -5.50L70.38 -5.81L70.00 -6.38L70.25 -6.81L71.50 -7.25L72.94 -7.25L74.19 -6.81L74.88 -5.69L75.38 -5.50L75.69 -5.56L76.19 -6.00L76.25 -6.56L75.62 -7.94L75.00 -8.44L73.12 -9.00L71.31 -9.00ZM59.38 -8.38L57.94 -7.00L57.69 -6.56L57.19 -5.06L57.19 -3.06L57.69 -1.56L57.94 -1.12L59.12 0.06L60.50 0.81L62.69 0.88L63.06 0.81L64.12 0.25L64.44 0.69L64.88 0.88L65.56 0.62L65.88 0.00L65.88 -8.12L65.69 -8.56L65.38 -8.88L65.00 -9.00L64.44 -8.81L64.12 -8.38L63.06 -8.94L60.88 -9.00L60.50 -8.94ZM61.12 -7.25L62.56 -7.19L63.19 -6.88L64.06 -6.00L64.06 -2.12L63.19 -1.25L62.44 -0.88L61.12 -0.88L60.25 -1.31L59.38 -2.19L58.88 -3.62L58.88 -4.50L59.38 -5.94L60.25 -6.81ZM25.31 -8.44L24.69 -7.88L24.06 -6.44L24.12 -6.00L24.69 -4.88L25.19 -4.38L26.50 -3.75L28.94 -3.31L30.00 -2.88L30.44 -2.12L30.44 -1.94L30.00 -1.25L28.88 -0.88L27.38 -0.88L26.25 -1.25L25.75 -2.12L25.38 -2.50L24.94 -2.62L24.69 -2.56L24.19 -2.19L24.06 -1.69L24.12 -1.31L24.81 -0.06L25.31 0.31L27.19 0.88L29.44 0.81L31.25 0.12L31.62 -0.31L32.19 -1.62L32.12 -2.75L31.44 -4.00L31.00 -4.38L30.00 -4.88L26.94 -5.50L26.31 -5.81L26.06 -6.06L25.94 -6.44L26.25 -6.88L27.19 -7.19L28.81 -7.25L30.00 -6.88L30.50 -6.00L31.00 -5.56L31.62 -5.56L32.06 -5.94L32.19 -6.25L32.12 -6.81L31.62 -7.81L30.94 -8.44L29.06 -9.00L26.81 -8.94ZM15.31 -8.38L13.88 -7.00L13.62 -6.62L13.06 -4.94L13.06 -3.19L13.62 -1.50L15.06 0.06L16.44 0.81L18.62 0.88L20.00 0.25L20.56 0.81L20.94 0.88L21.31 0.75L21.62 0.44L21.75 0.06L21.75 -8.19L21.62 -8.56L21.31 -8.88L20.88 -9.00L20.38 -8.81L20.00 -8.38L18.62 -9.00L16.44 -8.94ZM17.06 -7.25L18.31 -7.25L19.19 -6.81L20.00 -6.00L20.00 -2.12L19.12 -1.25L18.31 -0.88L17.06 -0.88L16.25 -1.25L15.25 -2.25L14.81 -3.56L14.81 -4.56L15.25 -5.88L16.19 -6.81ZM123.25 -13.00L122.81 -12.69L122.62 -12.19L122.69 0.25L123.00 0.69L123.44 0.88L127.62 0.88L129.56 0.31L129.94 0.06L131.31 -1.38L131.88 -2.44L132.50 -4.31L132.56 -7.56L131.94 -9.56L131.12 -11.06L129.94 -12.25L129.50 -12.50L127.62 -13.06ZM124.50 -11.31L127.44 -11.31L128.75 -10.88L129.81 -9.88L130.25 -9.00L130.75 -7.50L130.75 -4.62L130.25 -3.19L129.81 -2.31L128.81 -1.31L127.44 -0.88L124.44 -0.94ZM44.12 -12.88L43.75 -12.19L43.75 0.00L43.94 0.50L44.38 0.81L44.94 0.81L45.38 0.50L45.56 0.00L45.62 -7.12L48.38 0.12L48.69 0.62L49.19 0.88L49.75 0.75L50.19 0.25L53.00 -7.12L53.06 0.06L53.19 0.44L53.50 0.75L53.88 0.88L54.38 0.75L54.69 0.44L54.81 0.06L54.81 -12.31L54.69 -12.62L54.38 -12.94L53.88 -13.06L53.50 -12.94L53.06 -12.44L49.31 -2.56L45.50 -12.50L45.00 -13.00L44.56 -13.06ZM4.81 -13.00L3.38 -12.19L2.25 -11.06L1.50 -9.69L1.56 -9.62L0.88 -7.81L0.88 -4.38L1.56 -2.56L1.50 -2.50L2.25 -1.12L3.69 0.25L4.81 0.81L5.19 0.88L7.94 0.81L9.31 0.06L10.69 -1.38L11.31 -2.81L11.31 -4.81L11.19 -5.12L10.69 -5.50L7.38 -5.50L7.00 -5.31L6.75 -5.00L6.69 -4.44L7.12 -3.88L7.50 -3.75L9.50 -3.75L9.56 -3.12L9.12 -2.25L8.19 -1.31L7.31 -0.88L5.44 -0.88L4.56 -1.31L3.62 -2.25L3.12 -3.25L2.62 -4.75L2.62 -7.44L3.12 -8.94L3.56 -9.81L4.44 -10.75L5.50 -11.31L7.31 -11.31L8.19 -10.88L9.12 -9.94L9.62 -8.88L10.19 -8.44L10.69 -8.44L11.19 -8.81L11.31 -9.19L11.25 -9.69L10.50 -11.06L9.06 -12.44L7.94 -13.00L7.56 -13.06ZM175.06 -13.62L174.50 -13.38L173.94 -12.81L173.69 -12.12L173.94 -11.56L174.50 -11.00L174.94 -10.75L175.38 -10.75L175.81 -11.00L176.38 -11.56L176.62 -12.19L176.38 -12.81L175.81 -13.38L175.50 -13.56ZM98.50 -13.62L97.94 -13.38L97.38 -12.81L97.12 -12.19L97.38 -11.56L97.94 -11.00L98.38 -10.75L98.81 -10.75L99.25 -11.00L99.81 -11.56L100.06 -12.19L99.81 -12.81L99.25 -13.38L98.94 -13.56Z" fill="#000"/>
<path d="M682.8 466.9H762.9" stroke="#000" stroke-width="1.65" fill="none"/>
<path transform="translate(525.25 493.20) scale(1.0004 0.9259)" d="M135.56 -8.44L134.88 -7.88L134.31 -6.62L134.38 -5.88L134.88 -4.88L135.38 -4.38L136.38 -3.88L139.38 -3.25L140.19 -2.88L140.62 -2.12L140.62 -1.94L140.19 -1.25L139.06 -0.88L137.62 -0.88L136.44 -1.25L136.00 -2.06L135.56 -2.50L134.88 -2.56L134.62 -2.44L134.31 -2.00L134.31 -1.44L134.88 -0.25L135.50 0.31L137.38 0.88L139.62 0.81L141.44 0.12L141.75 -0.19L142.44 -1.75L142.31 -2.75L141.75 -3.88L141.19 -4.38L140.19 -4.88L137.12 -5.50L136.50 -5.81L136.12 -6.38L136.38 -6.81L137.62 -7.25L139.00 -7.25L140.19 -6.88L141.00 -5.69L141.50 -5.50L141.81 -5.56L142.25 -5.94L142.38 -6.56L141.75 -7.94L141.12 -8.44L139.25 -9.00L137.44 -9.00ZM125.69 -8.44L125.06 -7.94L124.44 -6.62L124.50 -5.94L125.06 -4.81L125.62 -4.31L126.50 -3.88L129.56 -3.25L130.31 -2.88L130.75 -2.19L130.75 -1.88L130.38 -1.25L129.19 -0.88L127.75 -0.88L126.50 -1.31L126.12 -2.06L125.69 -2.50L125.00 -2.56L124.62 -2.31L124.44 -2.00L124.50 -1.25L125.00 -0.25L125.69 0.31L127.56 0.88L129.75 0.81L131.50 0.19L131.94 -0.25L132.44 -1.25L132.56 -1.75L132.44 -2.81L131.94 -3.81L131.44 -4.31L130.31 -4.88L127.25 -5.50L126.44 -6.00L126.31 -6.50L126.50 -6.81L127.75 -7.25L129.19 -7.25L130.44 -6.81L130.94 -5.88L131.25 -5.62L131.62 -5.50L131.94 -5.56L132.38 -5.88L132.50 -6.12L132.50 -6.62L131.88 -7.94L131.25 -8.44L129.38 -9.00L127.56 -9.00ZM115.75 -8.44L114.19 -7.00L113.94 -6.56L113.44 -5.06L113.44 -3.06L113.94 -1.56L114.19 -1.12L115.38 0.06L116.75 0.81L118.94 0.88L119.31 0.81L120.38 0.25L120.50 0.50L120.94 0.81L121.25 0.88L121.75 0.69L122.12 0.00L122.12 -8.12L121.94 -8.62L121.62 -8.88L121.19 -9.00L120.62 -8.75L120.38 -8.38L119.31 -8.94L117.12 -9.00L116.75 -8.94ZM117.38 -7.25L118.69 -7.25L119.44 -6.88L120.31 -6.00L120.31 -2.06L119.62 -1.38L118.69 -0.88L117.38 -0.88L116.50 -1.31L115.62 -2.19L115.12 -3.69L115.12 -4.44L115.56 -5.81L116.38 -6.69ZM89.06 -8.94L86.62 -8.94L85.50 -8.38L85.06 -8.00L84.81 -8.62L84.38 -8.94L83.81 -8.94L83.31 -8.50L83.19 -8.12L83.19 0.00L83.38 0.50L83.69 0.75L84.06 0.88L84.62 0.69L84.94 0.25L85.00 -4.62L85.44 -5.88L86.44 -6.88L87.06 -7.19L88.81 -7.25L89.19 -7.38L89.50 -7.69L89.62 -8.12L89.44 -8.62ZM73.88 -8.38L72.44 -7.00L72.19 -6.56L71.69 -5.06L71.69 -3.06L72.19 -1.56L72.44 -1.12L73.62 0.06L75.00 0.81L77.19 0.88L77.56 0.81L78.62 0.25L78.94 0.69L79.38 0.88L80.06 0.62L80.38 0.00L80.38 -8.12L80.19 -8.56L79.88 -8.88L79.50 -9.00L78.94 -8.81L78.62 -8.38L77.56 -8.94L75.38 -9.00L75.00 -8.94ZM75.62 -7.25L77.06 -7.19L77.69 -6.88L78.56 -6.00L78.56 -2.12L77.69 -1.25L76.94 -0.88L75.62 -0.88L74.75 -1.31L73.88 -2.19L73.38 -3.62L73.38 -4.50L73.88 -5.94L74.75 -6.81ZM30.38 -8.38L28.94 -7.00L28.69 -6.56L28.19 -5.06L28.19 -3.06L28.69 -1.56L28.94 -1.12L30.12 0.06L31.50 0.81L33.69 0.88L34.06 0.81L35.12 0.25L35.44 0.69L35.88 0.88L36.56 0.62L36.88 0.00L36.88 -8.12L36.69 -8.56L36.38 -8.88L36.00 -9.00L35.44 -8.81L35.12 -8.38L34.06 -8.94L31.88 -9.00L31.50 -8.94ZM32.12 -7.25L33.56 -7.19L34.19 -6.88L35.06 -6.00L35.06 -2.12L34.19 -1.25L33.44 -0.88L32.12 -0.88L31.25 -1.31L30.38 -2.19L29.88 -3.62L29.88 -4.50L30.38 -5.94L31.25 -6.81ZM13.50 -8.94L12.12 -8.19L10.75 -6.69L10.12 -4.62L10.19 -3.12L10.94 -1.12L12.12 0.06L13.50 0.81L16.06 0.81L17.44 0.06L18.81 -1.44L19.44 -3.44L19.38 -5.06L18.88 -6.56L18.62 -7.00L17.06 -8.44L16.06 -8.94L15.69 -9.00ZM14.19 -7.25L15.44 -7.25L16.31 -6.81L17.19 -5.94L17.69 -4.50L17.69 -3.62L17.19 -2.19L16.31 -1.31L15.44 -0.88L14.12 -0.88L13.38 -1.25L12.38 -2.25L11.94 -3.50L11.94 -4.62L12.38 -5.88L13.38 -6.88ZM100.25 -12.75L100.00 -12.12L100.00 -0.06L100.19 0.44L100.62 0.81L101.25 0.81L101.62 0.50L101.81 0.00L101.88 -7.12L104.69 0.25L105.12 0.75L105.44 0.88L106.00 0.75L106.44 0.25L109.25 -7.12L109.31 0.00L109.50 0.50L109.88 0.81L110.25 0.88L110.62 0.75L110.94 0.44L111.06 0.12L111.06 -12.38L110.94 -12.62L110.62 -12.94L110.31 -13.06L109.88 -13.00L109.44 -12.62L105.56 -2.56L101.69 -12.62L101.38 -12.94L101.00 -13.06L100.62 -13.00ZM66.69 -13.06L66.19 -12.88L65.81 -12.19L65.81 -9.06L64.94 -9.00L64.44 -8.81L64.12 -8.38L64.12 -7.88L64.62 -7.31L65.81 -7.19L65.81 -2.31L66.50 -0.19L66.94 0.25L68.06 0.81L69.62 0.88L70.31 0.50L70.44 0.25L70.44 -0.25L70.31 -0.50L69.88 -0.81L68.69 -0.88L68.12 -1.12L67.94 -1.38L67.62 -2.31L67.56 -7.12L67.69 -7.25L69.12 -7.25L69.44 -7.38L69.81 -7.75L69.88 -8.31L69.31 -8.94L67.56 -9.06L67.56 -12.31L67.44 -12.62L67.12 -12.94ZM56.44 -13.00L54.94 -12.50L54.50 -12.25L53.31 -11.06L53.06 -10.50L53.12 -8.88L53.69 -7.75L54.69 -6.75L56.06 -6.06L59.38 -5.00L60.38 -4.50L60.75 -4.12L61.19 -3.25L61.19 -2.12L60.38 -1.31L59.00 -0.88L57.00 -0.88L55.62 -1.31L54.56 -2.38L53.94 -2.62L53.44 -2.44L53.19 -2.19L53.06 -1.69L53.31 -1.12L54.50 0.06L54.94 0.31L56.81 0.88L59.56 0.81L61.31 0.19L62.69 -1.12L62.94 -1.69L62.88 -3.88L62.31 -5.00L61.25 -6.06L59.94 -6.69L56.81 -7.69L55.56 -8.31L55.25 -8.62L54.81 -9.50L54.81 -10.06L55.56 -10.81L57.00 -11.31L59.00 -11.31L60.44 -10.81L61.44 -9.81L62.12 -9.56L62.50 -9.69L62.81 -10.00L62.94 -10.38L62.88 -10.75L61.50 -12.25L61.06 -12.50L59.19 -13.06ZM40.56 -13.06L40.19 -12.94L39.88 -12.62L39.69 -12.19L39.69 0.00L40.00 0.62L40.62 0.88L41.12 0.69L41.50 0.00L41.50 -12.19L41.12 -12.88ZM23.19 -13.06L22.69 -12.88L22.31 -12.19L22.31 -9.06L21.44 -9.00L20.94 -8.81L20.62 -8.38L20.62 -7.88L21.12 -7.31L22.31 -7.19L22.31 -2.31L23.00 -0.19L23.44 0.25L24.56 0.81L26.12 0.88L26.81 0.50L26.94 0.25L26.94 -0.25L26.81 -0.50L26.38 -0.81L25.19 -0.88L24.62 -1.12L24.44 -1.38L24.12 -2.31L24.06 -7.12L24.19 -7.25L25.62 -7.25L25.94 -7.38L26.31 -7.75L26.38 -8.31L25.81 -8.94L24.06 -9.06L24.06 -12.31L23.94 -12.62L23.62 -12.94ZM0.31 -13.00L0.06 -12.88L-0.25 -12.44L-0.25 -11.94L0.12 -11.44L0.50 -11.31L3.75 -11.25L3.75 0.00L4.12 0.69L4.56 0.88L4.94 0.81L5.38 0.44L5.50 0.12L5.50 -11.19L5.62 -11.31L8.81 -11.31L9.12 -11.44L9.44 -11.75L9.56 -12.06L9.50 -12.50L9.12 -12.94L8.75 -13.06Z" fill="#000"/>
<path d="M682.8 488.5H762.9" stroke="#f00" stroke-width="1.65" stroke-dasharray="2.3 4.78" fill="none"/>
<path transform="translate(479.55 514.30) scale(1.0090 0.9259)" d="M170.69 -8.94L169.31 -8.19L167.94 -6.69L167.31 -4.69L167.38 -3.06L167.88 -1.56L168.12 -1.12L169.69 0.31L170.69 0.81L171.06 0.88L173.25 0.81L174.62 0.06L175.81 -1.12L176.00 -1.50L176.00 -2.00L175.88 -2.25L175.44 -2.56L174.88 -2.56L174.50 -2.38L173.50 -1.31L172.62 -0.88L171.31 -0.88L170.38 -1.38L169.56 -2.19L169.12 -3.69L175.44 -3.81L176.00 -4.38L176.00 -6.06L175.38 -7.38L174.62 -8.19L173.25 -8.94L172.88 -9.00ZM169.44 -5.62L169.50 -5.81L170.56 -6.88L171.31 -7.25L172.62 -7.25L173.38 -6.88L173.94 -6.31L174.25 -5.69L174.19 -5.50L169.56 -5.50ZM149.25 -8.94L147.88 -8.19L146.44 -6.62L145.88 -4.94L145.88 -3.19L146.44 -1.50L146.69 -1.12L148.12 0.25L149.56 0.88L151.81 0.81L153.19 0.06L154.38 -1.19L154.56 -1.62L154.44 -2.19L154.00 -2.56L153.44 -2.56L153.06 -2.38L151.94 -1.25L151.19 -0.88L149.88 -0.88L149.00 -1.31L148.06 -2.25L147.62 -3.56L147.62 -4.56L148.06 -5.88L149.00 -6.81L149.88 -7.25L151.31 -7.19L151.94 -6.88L153.06 -5.75L153.69 -5.50L154.12 -5.62L154.44 -5.94L154.56 -6.50L154.31 -7.00L153.19 -8.19L151.75 -8.94ZM135.88 -8.88L135.56 -8.56L135.44 -8.25L135.44 0.12L135.56 0.44L135.88 0.75L136.38 0.88L136.81 0.69L137.12 0.25L137.19 -5.44L138.56 -6.81L139.44 -7.25L140.69 -7.25L141.44 -6.81L141.81 -5.62L141.81 0.12L141.94 0.44L142.38 0.81L142.75 0.88L143.12 0.75L143.44 0.44L143.56 0.00L143.56 -5.81L142.88 -7.94L142.44 -8.38L141.00 -9.00L138.81 -8.94L137.69 -8.38L137.25 -8.00L137.00 -8.62L136.81 -8.81L136.31 -9.00ZM124.69 -8.75L124.38 -8.12L124.38 -2.31L125.12 -0.12L125.50 0.25L126.94 0.88L129.19 0.81L130.62 -0.06L130.81 0.06L130.94 0.50L131.38 0.81L131.69 0.88L132.19 0.69L132.56 0.00L132.56 -8.12L132.38 -8.62L131.94 -8.94L131.38 -8.94L131.00 -8.69L130.75 -8.12L130.75 -2.69L129.31 -1.25L128.56 -0.88L127.25 -0.88L126.56 -1.25L126.19 -2.31L126.12 -8.38L126.00 -8.62L125.56 -8.94L125.25 -9.00ZM115.06 -8.38L113.50 -6.81L112.81 -4.94L112.81 -3.19L113.38 -1.50L114.81 0.06L116.19 0.81L118.38 0.88L118.75 0.81L119.75 0.25L120.31 0.81L120.69 0.88L121.06 0.75L121.38 0.44L121.50 0.12L121.50 -8.25L121.38 -8.56L121.06 -8.88L120.69 -9.00L120.12 -8.81L119.81 -8.38L118.38 -9.00L116.19 -8.94ZM116.81 -7.25L118.25 -7.19L118.88 -6.88L119.75 -6.00L119.75 -2.12L118.88 -1.25L118.12 -0.88L116.81 -0.88L115.94 -1.31L115.00 -2.25L114.56 -3.56L114.56 -4.50L115.06 -5.94L115.94 -6.81ZM72.56 -8.81L72.19 -8.12L72.19 0.00L72.38 0.50L72.75 0.81L73.12 0.88L73.50 0.75L73.94 0.19L73.94 -5.38L75.44 -6.88L76.25 -7.25L77.50 -7.25L78.19 -6.88L78.56 -5.75L78.62 0.25L78.94 0.69L79.38 0.88L80.06 0.62L80.38 0.00L80.38 -5.75L79.62 -8.00L79.12 -8.44L78.12 -8.94L77.75 -9.00L75.56 -8.94L74.00 -8.00L73.81 -8.56L73.50 -8.88L73.06 -9.00ZM68.44 -9.00L68.00 -8.88L67.69 -8.56L67.56 -8.19L67.56 0.06L67.69 0.44L68.00 0.75L68.38 0.88L68.88 0.75L69.19 0.44L69.31 0.06L69.31 -8.19L69.19 -8.56L68.88 -8.88ZM30.38 -8.38L28.94 -7.00L28.69 -6.56L28.19 -5.06L28.19 -3.06L28.69 -1.56L28.94 -1.12L30.12 0.06L31.50 0.81L33.69 0.88L34.06 0.81L35.12 0.25L35.44 0.69L35.88 0.88L36.56 0.62L36.88 0.00L36.88 -8.12L36.69 -8.56L36.38 -8.88L36.00 -9.00L35.44 -8.81L35.12 -8.38L34.06 -8.94L31.88 -9.00L31.50 -8.94ZM32.12 -7.25L33.56 -7.19L34.19 -6.88L35.06 -6.00L35.06 -2.12L34.19 -1.25L33.44 -0.88L32.12 -0.88L31.25 -1.31L30.38 -2.19L29.88 -3.62L29.88 -4.50L30.38 -5.94L31.25 -6.81ZM13.50 -8.94L12.12 -8.19L10.75 -6.69L10.12 -4.62L10.19 -3.12L10.94 -1.12L12.12 0.06L13.50 0.81L16.06 0.81L17.44 0.06L18.81 -1.44L19.44 -3.44L19.38 -5.06L18.88 -6.56L18.62 -7.00L17.06 -8.44L16.06 -8.94L15.69 -9.00ZM14.19 -7.25L15.44 -7.25L16.31 -6.81L17.19 -5.94L17.69 -4.50L17.69 -3.62L17.19 -2.19L16.31 -1.31L15.44 -0.88L14.12 -0.88L13.38 -1.25L12.38 -2.25L11.94 -3.50L11.94 -4.62L12.38 -5.88L13.38 -6.88ZM185.88 -13.00L185.56 -13.06L185.19 -12.94L184.88 -12.62L184.69 -12.19L184.62 -8.44L183.69 -8.94L183.31 -9.00L181.12 -8.94L179.75 -8.19L178.38 -6.69L177.75 -4.69L177.81 -3.06L178.31 -1.56L178.56 -1.12L179.75 0.06L181.12 0.81L183.31 0.88L183.69 0.81L184.75 0.25L185.00 0.62L185.62 0.88L186.12 0.69L186.44 0.25L186.50 -12.19L186.31 -12.69ZM181.75 -7.25L183.06 -7.25L184.00 -6.75L184.69 -6.06L184.69 -2.06L183.94 -1.31L183.06 -0.88L181.75 -0.88L180.81 -1.38L179.94 -2.31L179.56 -3.44L179.50 -4.38L179.94 -5.81L181.00 -6.88ZM157.25 -12.88L156.88 -12.19L156.94 0.31L157.31 0.75L157.81 0.88L158.19 0.75L158.50 0.44L158.62 0.12L158.69 -5.50L160.12 -6.88L160.88 -7.25L162.19 -7.25L162.88 -6.81L163.25 -5.69L163.31 0.25L163.81 0.81L164.19 0.88L164.56 0.75L164.88 0.44L165.00 0.12L165.00 -6.12L164.38 -7.88L163.81 -8.44L162.81 -8.94L162.44 -9.00L160.25 -8.94L159.25 -8.44L158.69 -8.00L158.62 -12.31L158.50 -12.62L158.06 -13.00L157.75 -13.06ZM103.88 -12.88L103.50 -12.19L103.50 0.00L103.69 0.50L104.25 0.88L111.69 0.81L112.19 0.25L112.19 -0.25L111.69 -0.81L105.31 -0.94L105.31 -12.19L105.12 -12.62L104.69 -13.00L104.38 -13.06ZM90.75 -13.00L90.50 -13.06L90.06 -12.94L89.62 -12.38L89.50 -8.44L88.56 -8.94L88.19 -9.00L86.00 -8.94L84.62 -8.19L83.25 -6.69L82.62 -4.62L82.62 -3.44L83.25 -1.44L84.62 0.06L86.00 0.81L88.19 0.88L88.56 0.81L89.62 0.25L90.06 0.75L90.56 0.88L91.00 0.69L91.31 0.25L91.38 -12.19L91.19 -12.69ZM86.69 -7.25L87.94 -7.25L88.81 -6.81L89.56 -6.06L89.56 -2.06L88.81 -1.31L87.94 -0.88L86.62 -0.88L85.88 -1.25L84.88 -2.25L84.44 -3.50L84.44 -4.62L84.88 -5.88L85.88 -6.88ZM52.94 -12.94L52.56 -12.50L52.50 -11.88L55.50 0.44L55.81 0.75L56.38 0.88L56.88 0.62L57.12 0.25L59.06 -8.06L59.19 -8.12L61.19 0.25L61.75 0.81L62.19 0.88L62.50 0.75L62.81 0.44L63.06 -0.25L65.81 -11.81L65.81 -12.38L65.69 -12.62L65.38 -12.94L64.94 -13.06L64.44 -12.88L64.06 -12.31L62.06 -4.00L60.06 -12.31L59.88 -12.69L59.50 -13.00L59.06 -13.06L58.62 -12.88L58.25 -12.31L56.38 -4.19L56.25 -4.00L54.25 -12.38L54.06 -12.69L53.62 -13.00L53.38 -13.06ZM40.56 -13.06L40.19 -12.94L39.88 -12.62L39.69 -12.19L39.69 0.00L40.00 0.62L40.62 0.88L41.12 0.69L41.50 0.00L41.50 -12.19L41.12 -12.88ZM23.19 -13.06L22.69 -12.88L22.31 -12.19L22.31 -9.06L21.44 -9.00L20.94 -8.81L20.62 -8.38L20.62 -7.88L21.12 -7.31L22.31 -7.19L22.31 -2.31L23.00 -0.19L23.44 0.25L24.56 0.81L26.12 0.88L26.81 0.50L26.94 0.25L26.94 -0.25L26.81 -0.50L26.38 -0.81L25.19 -0.88L24.62 -1.12L24.44 -1.38L24.12 -2.31L24.06 -7.12L24.19 -7.25L25.62 -7.25L25.94 -7.38L26.31 -7.75L26.38 -8.31L25.81 -8.94L24.06 -9.06L24.06 -12.31L23.94 -12.62L23.62 -12.94ZM0.31 -13.00L0.06 -12.88L-0.25 -12.44L-0.25 -11.94L0.12 -11.44L0.50 -11.31L3.75 -11.25L3.75 0.00L4.12 0.69L4.56 0.88L4.94 0.81L5.38 0.44L5.50 0.12L5.50 -11.19L5.62 -11.31L8.81 -11.31L9.12 -11.44L9.44 -11.75L9.56 -12.06L9.50 -12.50L9.12 -12.94L8.75 -13.06ZM68.31 -13.62L67.81 -13.38L67.19 -12.75L67.00 -12.44L67.00 -11.94L67.88 -10.94L68.25 -10.75L68.62 -10.75L69.19 -11.06L69.69 -11.56L69.88 -12.00L69.88 -12.38L69.62 -12.75L69.69 -12.81L68.75 -13.56Z" fill="#000"/>
<path d="M682.8 509.6H762.9" stroke="#00f" stroke-width="1.65" stroke-dasharray="10.1 9.95" fill="none"/>
<path transform="translate(414.95 535.60) scale(1.0116 0.9259)" d="M69.06 -9.00L68.50 -8.81L68.12 -8.12L68.12 0.00L68.31 0.50L68.69 0.81L68.94 0.88L69.44 0.75L69.75 0.44L69.94 0.00L69.94 -8.06L69.75 -8.56L69.44 -8.88ZM55.25 -8.88L54.88 -8.44L54.81 -7.81L57.25 0.44L57.56 0.75L58.12 0.88L58.44 0.75L58.88 0.25L60.31 -4.75L61.88 0.44L62.19 0.75L62.50 0.88L62.75 0.88L63.25 0.62L63.62 -0.12L65.75 -7.56L65.81 -8.31L65.69 -8.56L65.38 -8.88L64.94 -9.00L64.44 -8.81L64.06 -8.31L62.81 -3.75L62.62 -3.38L61.19 -8.38L60.62 -8.94L60.25 -9.00L59.88 -8.88L59.44 -8.31L58.00 -3.38L56.56 -8.31L56.00 -8.94L55.69 -9.00ZM36.94 -8.44L36.31 -7.94L35.69 -6.56L35.75 -5.94L36.31 -4.81L36.69 -4.44L38.12 -3.75L40.81 -3.25L41.56 -2.88L42.00 -2.19L42.00 -1.88L41.62 -1.25L40.44 -0.88L39.00 -0.88L37.75 -1.31L37.06 -2.44L36.81 -2.56L36.25 -2.56L35.81 -2.19L35.69 -1.56L36.31 -0.19L36.94 0.31L38.81 0.88L41.06 0.81L42.56 0.31L43.19 -0.25L43.69 -1.25L43.81 -1.75L43.69 -2.81L43.19 -3.81L42.69 -4.31L41.56 -4.88L38.50 -5.50L37.88 -5.81L37.56 -6.44L37.88 -6.88L39.00 -7.25L40.44 -7.25L41.69 -6.81L42.06 -6.06L42.50 -5.62L42.88 -5.50L43.44 -5.69L43.75 -6.12L43.69 -6.88L43.19 -7.88L42.50 -8.44L40.62 -9.00L38.81 -9.00ZM27.06 -8.44L26.38 -7.81L25.81 -6.50L25.88 -5.94L26.56 -4.69L26.94 -4.38L28.25 -3.75L31.12 -3.19L31.88 -2.75L32.19 -2.00L31.75 -1.25L30.62 -0.88L29.12 -0.88L28.00 -1.25L27.50 -2.12L27.19 -2.44L26.69 -2.62L26.38 -2.56L25.94 -2.19L25.81 -1.81L25.88 -1.31L26.38 -0.31L27.06 0.31L28.94 0.88L31.19 0.81L32.69 0.31L33.06 0.06L33.88 -1.31L33.94 -1.69L33.88 -2.75L33.19 -4.00L31.75 -4.88L28.81 -5.44L27.94 -5.88L27.69 -6.44L28.00 -6.88L28.94 -7.19L30.56 -7.25L31.75 -6.88L32.25 -6.00L32.62 -5.62L33.06 -5.50L33.38 -5.56L33.81 -5.94L33.94 -6.44L33.19 -8.06L32.69 -8.44L30.75 -9.00L28.94 -9.00ZM16.75 -8.19L15.38 -6.62L14.75 -4.62L14.81 -3.12L15.31 -1.62L15.56 -1.19L16.75 0.06L18.12 0.81L20.38 0.88L21.75 0.25L22.31 0.81L22.69 0.88L23.06 0.75L23.38 0.44L23.50 0.06L23.50 -8.12L23.38 -8.56L22.94 -8.94L22.62 -9.00L22.19 -8.88L21.75 -8.38L20.69 -8.94L18.50 -9.00ZM18.81 -7.25L20.06 -7.25L20.94 -6.81L21.75 -6.00L21.75 -2.12L20.94 -1.31L20.06 -0.88L18.81 -0.88L18.00 -1.25L17.00 -2.25L16.56 -3.50L16.56 -4.62L17.00 -5.88L18.00 -6.88ZM80.19 -12.94L79.88 -12.62L79.75 -12.25L79.75 0.06L79.88 0.44L80.19 0.75L80.69 0.88L81.06 0.75L81.44 0.31L81.50 -5.44L82.88 -6.81L83.75 -7.25L85.00 -7.25L85.75 -6.81L86.12 -5.62L86.19 0.31L86.69 0.81L87.06 0.88L87.44 0.75L87.75 0.44L87.88 0.06L87.88 -5.88L87.31 -7.75L86.75 -8.38L85.69 -8.94L85.31 -9.00L83.12 -8.94L82.00 -8.38L81.56 -8.00L81.44 -12.50L80.94 -13.00L80.62 -13.06ZM73.94 -13.00L73.50 -12.62L73.38 -12.31L73.38 -9.06L72.06 -8.88L71.75 -8.56L71.62 -8.06L71.75 -7.69L72.06 -7.38L72.44 -7.25L73.25 -7.25L73.38 -7.12L73.38 -2.00L74.00 -0.25L74.56 0.31L75.56 0.81L77.19 0.88L77.56 0.75L77.88 0.44L78.00 0.12L77.88 -0.44L77.44 -0.81L76.19 -0.88L75.69 -1.12L75.50 -1.31L75.12 -2.44L75.12 -7.19L76.88 -7.31L77.31 -7.69L77.44 -8.19L77.31 -8.56L76.88 -8.94L75.12 -9.06L75.06 -12.44L74.75 -12.88L74.25 -13.06ZM1.88 -12.94L1.56 -12.62L1.44 -12.25L1.44 0.00L1.56 0.44L1.88 0.75L2.38 0.88L2.75 0.75L3.06 0.44L3.19 0.12L3.25 -7.19L6.06 0.19L6.50 0.75L6.81 0.88L7.31 0.81L7.81 0.31L10.62 -7.06L10.69 0.00L10.88 0.50L11.31 0.81L11.62 0.88L12.12 0.69L12.50 0.00L12.50 -12.19L12.31 -12.69L11.94 -13.00L11.50 -13.06L11.06 -12.88L10.75 -12.50L7.06 -2.69L6.94 -2.62L3.25 -12.31L2.62 -13.00L2.25 -13.06ZM68.88 -13.62L68.38 -13.38L67.81 -12.81L67.62 -12.50L67.56 -12.06L67.81 -11.56L68.38 -11.00L68.81 -10.75L69.25 -10.75L69.69 -11.00L70.25 -11.56L70.44 -11.94L70.44 -12.44L70.25 -12.81L69.69 -13.38Z" fill="#000"/>
<path transform="translate(545.85 535.60) scale(1.0093 0.9259)" d="M28.12 -2.00L27.19 -1.19L27.00 -0.81L27.00 -0.31L27.19 0.06L27.81 0.62L28.50 0.88L29.06 0.62L29.62 0.06L29.88 -0.62L29.62 -1.19L29.00 -1.81L28.69 -2.00ZM102.50 -8.44L101.81 -7.88L101.25 -6.62L101.31 -5.88L101.81 -4.88L102.31 -4.38L103.31 -3.88L106.38 -3.25L107.12 -2.88L107.56 -2.19L107.56 -1.88L107.31 -1.38L106.00 -0.88L104.56 -0.88L103.38 -1.25L102.94 -2.06L102.50 -2.50L101.81 -2.56L101.56 -2.44L101.25 -2.00L101.31 -1.25L101.81 -0.25L102.44 0.31L104.38 0.88L106.56 0.81L108.38 0.12L108.69 -0.19L109.38 -1.75L109.25 -2.75L108.69 -3.88L108.25 -4.31L107.12 -4.88L104.06 -5.50L103.44 -5.81L103.06 -6.38L103.31 -6.81L104.56 -7.25L106.00 -7.25L107.12 -6.88L107.94 -5.69L108.44 -5.50L108.75 -5.56L109.19 -5.94L109.31 -6.56L108.69 -7.94L108.06 -8.44L106.19 -9.00L104.38 -9.00ZM75.25 -8.56L75.06 -8.06L75.06 0.00L75.31 0.56L75.56 0.75L75.94 0.88L76.31 0.81L76.69 0.50L76.88 0.00L76.88 -5.44L78.25 -6.81L79.12 -7.25L80.38 -7.25L81.00 -6.94L81.12 -6.75L81.50 -5.56L81.50 0.12L81.62 0.44L81.94 0.75L82.31 0.88L82.69 0.81L83.06 0.50L83.25 0.00L83.25 -5.44L84.62 -6.81L85.50 -7.25L86.75 -7.25L87.44 -6.88L87.88 -5.56L87.88 0.12L88.00 0.44L88.31 0.75L88.69 0.88L89.19 0.75L89.56 0.31L89.62 -5.81L89.06 -7.69L88.50 -8.38L87.06 -9.00L84.88 -8.94L83.75 -8.38L82.75 -7.50L82.50 -8.00L82.12 -8.38L81.00 -8.94L80.62 -9.00L78.50 -8.94L77.38 -8.38L76.94 -8.00L76.69 -8.62L76.25 -8.94L75.69 -8.94ZM2.25 -11.31L1.88 -11.19L1.56 -10.88L1.44 -10.44L1.56 -10.00L1.94 -9.62L9.69 -5.25L9.56 -5.06L1.94 -0.81L1.50 -0.31L1.50 0.31L1.88 0.75L2.38 0.88L3.19 0.56L12.06 -4.44L12.44 -4.94L12.44 -5.50L12.06 -6.00L3.19 -11.00ZM65.69 -12.94L65.38 -12.62L65.25 -12.25L65.25 0.06L65.38 0.44L65.69 0.75L66.06 0.88L66.56 0.75L66.88 0.44L67.00 0.06L67.00 -1.94L68.44 -3.31L71.81 0.56L72.44 0.88L72.94 0.75L73.25 0.44L73.38 0.06L73.19 -0.56L69.69 -4.56L72.56 -7.50L72.75 -7.88L72.75 -8.38L72.62 -8.62L71.94 -9.00L71.31 -8.75L67.06 -4.50L67.00 -12.19L66.88 -12.62L66.44 -13.00L66.12 -13.06ZM45.56 -13.00L45.12 -12.69L44.88 -11.94L44.38 -7.44L44.38 -6.81L44.50 -6.50L45.00 -6.12L45.50 -6.12L45.88 -6.31L46.38 -6.81L47.75 -7.25L49.12 -7.25L50.50 -6.81L51.50 -5.75L51.88 -4.62L51.88 -3.50L51.44 -2.25L50.50 -1.31L49.12 -0.88L47.69 -0.88L46.38 -1.31L45.94 -1.75L45.44 -2.75L45.00 -3.12L44.75 -3.19L44.31 -3.12L43.94 -2.81L43.81 -2.56L43.88 -1.88L44.44 -0.75L45.19 0.06L45.62 0.31L47.12 0.81L49.38 0.88L51.25 0.31L51.69 0.06L52.88 -1.19L53.12 -1.62L53.62 -3.12L53.69 -4.62L53.06 -6.62L51.69 -8.19L51.25 -8.44L49.31 -9.00L47.50 -9.00L46.50 -8.69L46.31 -8.81L46.56 -11.06L46.69 -11.31L51.75 -11.31L52.06 -11.44L52.38 -11.75L52.50 -12.19L52.44 -12.50L52.12 -12.88L51.62 -13.06ZM35.56 -13.00L34.44 -12.44L33.56 -11.62L33.31 -11.25L32.75 -9.88L32.75 -9.25L32.88 -8.88L33.38 -8.44L33.88 -8.44L34.38 -8.81L34.56 -9.75L34.94 -10.50L35.31 -10.88L36.19 -11.31L38.00 -11.31L38.81 -10.94L39.38 -10.38L39.69 -9.75L39.69 -8.81L38.19 -6.38L32.44 -0.62L32.19 -0.06L32.25 0.31L32.62 0.75L33.00 0.88L41.50 0.81L41.94 0.44L42.06 0.00L41.94 -0.44L41.50 -0.81L35.25 -0.94L39.62 -5.31L40.75 -7.00L41.50 -8.69L41.50 -9.88L41.38 -10.31L40.69 -11.62L39.88 -12.38L38.69 -13.00L38.31 -13.06ZM20.31 -13.06L19.69 -12.81L18.06 -11.19L17.06 -10.69L16.56 -10.12L16.56 -9.62L16.69 -9.38L17.25 -9.00L17.81 -9.06L18.94 -9.62L19.38 -10.00L19.44 -9.94L19.44 0.12L19.56 0.44L19.88 0.75L20.25 0.88L20.81 0.69L21.19 0.00L21.19 -12.19L21.00 -12.69Z" fill="#000"/>
<path d="M517.9 522.5V534.9M533.4 522.5V534.9M522.5 528.2L525.8 534.9L529.1 528.2" fill="none" stroke="#000" stroke-width="1.65" stroke-linecap="round" stroke-linejoin="round"/>
<path transform="translate(657.40 527.00)" d="M0.25 -2.44L0.38 -1.88L0.62 -1.62L1.00 -1.50L5.62 -1.50L6.00 -1.62L6.38 -2.12L6.25 -2.75L5.75 -3.06L0.88 -3.06L0.69 -3.00ZM9.31 -6.12L9.00 -6.00L8.19 -5.19L7.75 -5.00L7.50 -4.75L7.38 -4.31L7.50 -3.94L7.75 -3.69L8.06 -3.56L8.69 -3.62L8.69 0.25L9.06 0.69L9.62 0.75L9.88 0.62L10.19 0.19L10.19 -5.56L9.75 -6.06Z"/>
<path d="M682.8 531.0H762.9" stroke="#a020f0" stroke-width="1.65" stroke-dasharray="10.2 5.0 2.4 5.0" fill="none"/>
</svg>
</body></html>
